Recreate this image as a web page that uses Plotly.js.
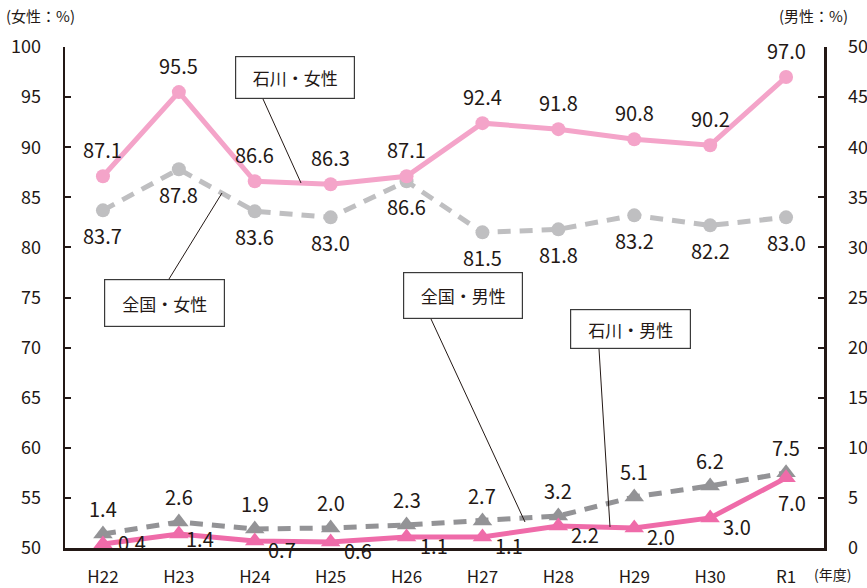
<!DOCTYPE html>
<html>
<head>
<meta charset="utf-8">
<script src="https://cdn.plot.ly/plotly-3.0.1.min.js"></script>
<style>html,body{margin:0;padding:0;background:#fff;}#chart{width:867px;height:588px;}</style>
</head>
<body>
<div id="chart"></div>
<script>
// ---- data ----
const years = ["H22","H23","H24","H25","H26","H27","H28","H29","H30","R1"];
const ishikawaFemale = [87.1, 95.5, 86.6, 86.3, 87.1, 92.4, 91.8, 90.8, 90.2, 97.0];
const nationalFemale = [83.7, 87.8, 83.6, 83.0, 86.6, 81.5, 81.8, 83.2, 82.2, 83.0];
const nationalMale   = [1.4, 2.6, 1.9, 2.0, 2.3, 2.7, 3.2, 5.1, 6.2, 7.5];
const ishikawaMale   = [0.4, 1.4, 0.7, 0.6, 1.1, 1.1, 2.2, 2.0, 3.0, 7.0];
const seriesNames = ["石川・女性", "全国・女性", "全国・男性", "石川・男性"];

// ---- style ----
const FONT = '"Noto Sans CJK JP", "Noto Sans", sans-serif';
const TXT = '#231815';
const W = 867, H = 588, M = {l: 65, r: 43, t: 47, b: 40};
const PW = W - M.l - M.r, PH = H - M.t - M.b;
const px = x => (x - M.l) / PW;
const py = y => (H - M.b - y) / PH;

const cPinkLight = '#F4A4C9', cPinkDark = '#EF6BA9', cGrayLight = '#BFBFC1', cGrayDark = '#939396';

const traces = [
  {x: years, y: nationalFemale, name: seriesNames[1], type: 'scatter', mode: 'lines+markers',
   line: {color: cGrayLight, width: 5, dash: '13px,9px'}, marker: {symbol: 'circle', size: 14, color: cGrayLight}, yaxis: 'y', cliponaxis: false},
  {x: years, y: ishikawaFemale, name: seriesNames[0], type: 'scatter', mode: 'lines+markers',
   line: {color: cPinkLight, width: 5}, marker: {symbol: 'circle', size: 14, color: cPinkLight}, yaxis: 'y', cliponaxis: false},
  {x: years, y: nationalMale, name: seriesNames[2], type: 'scatter', mode: 'lines+markers',
   line: {color: cGrayDark, width: 5, dash: '13px,9px'}, marker: {symbol: 'triangle-up', size: 17, color: cGrayDark}, yaxis: 'y2', cliponaxis: false},
  {x: years, y: ishikawaMale, name: seriesNames[3], type: 'scatter', mode: 'lines+markers',
   line: {color: cPinkDark, width: 5}, marker: {symbol: 'triangle-up', size: 17, color: cPinkDark}, yaxis: 'y2', cliponaxis: false}
];

const annotations = [];
const lblFont = {family: FONT, size: 20, color: TXT};
function addLabels(vals, yref, dx, dy, special) {
  vals.forEach((v, i) => {
    let sx = dx, sy = dy;
    if (special && special[i]) { sx = special[i][0]; sy = special[i][1]; }
    annotations.push({x: years[i], y: v, xref: 'x', yref: yref, text: v.toFixed(1), showarrow: false,
      font: lblFont, xshift: sx, yshift: sy});
  });
}
addLabels(ishikawaFemale, 'y', 0, 27);
addLabels(nationalFemale, 'y', 0, -25);
addLabels(nationalMale, 'y2', 0, 25);
addLabels(ishikawaMale, 'y2', 27, -9, {9: [6, -25], 1: [21, -5], 0: [29, 1]});

// callout boxes
const boxFont = {family: FONT, size: 17, color: TXT};
function box(text, x0, y0, x1, y1) {
  annotations.push({xref: 'paper', yref: 'paper', x: px((x0 + x1) / 2), y: py((y0 + y1) / 2),
    xanchor: 'center', yanchor: 'middle', text: text, showarrow: false, font: boxFont,
    width: x1 - x0 - 2, height: y1 - y0 - 2, borderpad: 0, borderwidth: 1.2, bordercolor: '#3a3a3a', bgcolor: '#ffffff'});
}
box(seriesNames[0], 235, 56, 355, 99);
box(seriesNames[1], 104, 279, 225, 327);
box(seriesNames[2], 403, 272, 523, 319);
box(seriesNames[3], 570, 309, 691, 349);

// axis unit texts
annotations.push({xref: 'paper', yref: 'paper', x: px(4), y: py(16), xanchor: 'left', yanchor: 'middle', text: '(女性：%)', showarrow: false, font: {family: FONT, size: 15, color: TXT}});
annotations.push({xref: 'paper', yref: 'paper', x: px(850), y: py(16), xanchor: 'right', yanchor: 'middle', text: '(男性：%)', showarrow: false, font: {family: FONT, size: 15, color: TXT}});
annotations.push({xref: 'paper', yref: 'paper', x: px(812), y: py(574), xanchor: 'left', yanchor: 'middle', text: '(年度)', showarrow: false, font: {family: FONT, size: 14, color: TXT}});

function seg(x0, y0, x1, y1) {
  return {type: 'line', xref: 'paper', yref: 'paper', x0: px(x0), y0: py(y0), x1: px(x1), y1: py(y1),
    line: {color: '#231815', width: 1}, layer: 'above'};
}
const shapes = [
  seg(263, 99, 301, 183),
  seg(169, 279, 222, 193),
  seg(431, 319, 525, 522),
  seg(599, 349, 610, 527)
];

const axisCommon = {showgrid: false, zeroline: false, showline: true, linecolor: TXT, linewidth: 2.5,
  ticks: 'inside', ticklen: 6, tickwidth: 2, tickcolor: TXT, tickfont: {family: FONT, size: 18, color: TXT}, dtick: 5, ticklabelstandoff: 18};

const layout = {
  width: W, height: H, margin: M, showlegend: false,
  paper_bgcolor: '#fff', plot_bgcolor: '#fff',
  font: {family: FONT, color: TXT},
  xaxis: {type: 'category', range: [-0.5, 9.5], showgrid: false, zeroline: false, showline: true, linecolor: TXT, linewidth: 2.5,
    ticks: '', tickfont: {family: FONT, size: 17, color: TXT}, ticklabelstandoff: 12},
  yaxis: Object.assign({}, axisCommon, {range: [50, 100], tick0: 50}),
  yaxis2: Object.assign({}, axisCommon, {range: [0, 50], tick0: 0, overlaying: 'y', side: 'right'}),
  annotations: annotations,
  shapes: shapes
};

Plotly.newPlot('chart', traces, layout, {staticPlot: true, displayModeBar: false});
</script>
</body>
</html>
